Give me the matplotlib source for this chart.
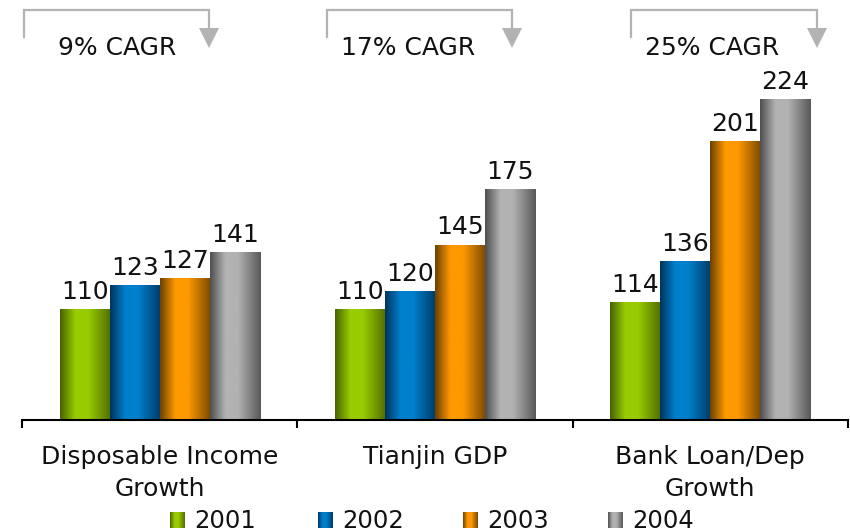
import numpy as np
import matplotlib.pyplot as plt
from matplotlib.colors import to_rgb

categories = ['Disposable Income\nGrowth', 'Tianjin GDP', 'Bank Loan/Dep\nGrowth']
years = ['2001', '2002', '2003', '2004']
values = {
    '2001': [110, 110, 114],
    '2002': [123, 120, 136],
    '2003': [127, 145, 201],
    '2004': [141, 175, 224],
}
cagr_labels = ['9% CAGR', '17% CAGR', '25% CAGR']

# dark edge / bright centre for the cylinder shading
bar_colors = {
    '2001': ('#4a6400', '#99cc00'),
    '2002': ('#00355f', '#0080cc'),
    '2003': ('#6e4200', '#ff9900'),
    '2004': ('#505050', '#b2b2b2'),
}

FS = 18
W, H = 850, 532


def shade(dark, light, n=64):
    t = np.linspace(0, 1, n)
    # rises quickly to the bright centre, falls off towards the right edge
    prof = np.interp(t, [0, 0.3, 0.55, 1.0], [0.0, 1.0, 1.0, 0.1])
    d, l = np.array(to_rgb(dark)), np.array(to_rgb(light))
    return (d[None, :] + prof[:, None] * (l - d)[None, :])[None, :, :]


fig = plt.figure(figsize=(W / 100, H / 100), dpi=100)
ymin = 50
ax = fig.add_axes([22 / W, (H - 420) / H, 826 / W, 420 / H])
ax.set_xlim(-0.5, 2.5)
ax.set_ylim(ymin, ymin + 420 / 1.842)

bw = 50 / 275
x = np.arange(len(categories))
for i, yr in enumerate(years):
    img = shade(*bar_colors[yr])
    for xi, v in zip(x, values[yr]):
        x0 = xi + (i - 2) * bw
        ax.imshow(img, extent=(x0, x0 + bw, ymin, v), aspect='auto',
                  interpolation='bilinear', zorder=2)
        ax.annotate(str(v), (x0 + bw / 2, v), xytext=(0, 4), textcoords='offset points',
                    ha='center', va='bottom', fontsize=FS, color='#111111')

for xi, cat in zip(x, categories):
    ax.annotate(cat, (xi, ymin), xytext=(0, -18), textcoords='offset points',
                ha='center', va='top', fontsize=FS, linespacing=1.4, color='#111111',
                annotation_clip=False)

for s in ['top', 'right', 'left']:
    ax.spines[s].set_visible(False)
ax.spines['bottom'].set_linewidth(1.5)
ax.set_xticks([-0.5, 0.5, 1.5, 2.5])
ax.set_xticklabels([])
ax.tick_params(axis='x', direction='out', length=6, width=1.5)
ax.set_yticks([])

# overlay in pixel coordinates for brackets and legend
ov = fig.add_axes([0, 0, 1, 1], zorder=5)
ov.set_xlim(0, W)
ov.set_ylim(H, 0)
ov.axis('off')
ov.patch.set_alpha(0)

bracket_left = [24, 327, 631]
bracket_right = [209, 512, 817]
text_left = [58, 341, 645]
gray = '#b3b3b3'
for lx, rx, tx, lab in zip(bracket_left, bracket_right, text_left, cagr_labels):
    ov.plot([lx, lx, rx, rx], [37, 10, 10, 29], color=gray, lw=1.6, solid_joinstyle='miter')
    ov.fill([rx - 10, rx + 10, rx], [28, 28, 48], color=gray, lw=0)
    ov.text(tx, 55, lab, ha='left', va='baseline', fontsize=FS, color='#111111')

leg_x = [170, 318, 463, 608]
for lx, yr in zip(leg_x, years):
    ov.imshow(shade(*bar_colors[yr]), extent=(lx, lx + 15, 528, 512), aspect='auto',
              interpolation='bilinear')
    ov.text(lx + 24, 528, yr, ha='left', va='baseline', fontsize=17.5, color='#111111')
ov.set_xlim(0, W)
ov.set_ylim(H, 0)

fig.savefig('out.png', dpi=100)
